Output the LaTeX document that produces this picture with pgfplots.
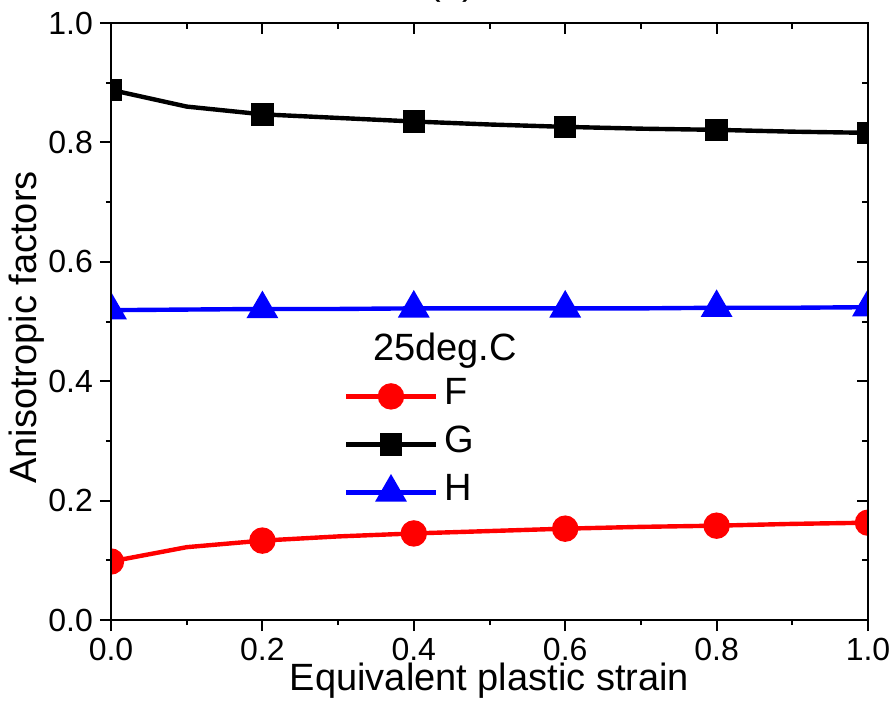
\documentclass[border=0pt]{standalone}
\usepackage{fontspec}
\setmainfont{Liberation Sans}
\usepackage{pgfplots}
\pgfplotsset{compat=1.18}
\usetikzlibrary{calc}

\begin{document}
\begin{tikzpicture}
\pgfplotsset{
  frame/.style={width=378.5pt,height=298.5pt,scale only axis,
    xmin=0,xmax=1,ymin=0,ymax=1,
    xtick={0,0.2,...,1.0},ytick={0,0.2,...,1.0},
    minor x tick num=1,minor y tick num=1,
    axis line style={line width=1pt},
    every tick/.style={line width=1pt,black},
    major tick length=5.5pt,minor tick length=2.5pt}
}
\begin{axis}[frame,name=ax,
  xtick pos=left,ytick pos=left,tick align=outside,
  /pgf/number format/.cd,fixed,fixed zerofill,precision=1,assume math mode=true,/pgfplots/.cd,
  tick label style={font=\fontsize{16}{19}\selectfont},
  xlabel={Equivalent plastic strain},ylabel={Anisotropic factors},
  label style={font=\fontsize{19}{22}\selectfont},
  xlabel style={at={(axis description cs:0.5,0)},anchor=base,yshift=-35pt},
  ylabel style={at={(axis description cs:-0.0978,0.49)},anchor=base},
  clip marker paths=true,
  legend style={draw=none,fill=none,inner sep=0pt,
    at={(rel axis cs:0.307,0.4154)},anchor=north west,
    font=\fontsize{19}{22}\selectfont,
    nodes={inner sep=0pt,text height=16pt,text depth=8pt},
    column sep=3pt},
  legend cell align=left,
  legend image code/.code={\draw[mark repeat=2,mark phase=2] plot coordinates {(0pt,0pt)(22.5pt,0pt)(45pt,0pt)};},
]
\addplot[red,line width=2.2pt,mark=*,mark size=5.5pt,mark repeat=2] coordinates {
(0.0,0.098)(0.1,0.122)(0.2,0.133)(0.3,0.140)(0.4,0.145)(0.5,0.149)
(0.6,0.153)(0.7,0.156)(0.8,0.158)(0.9,0.161)(1.0,0.163)};
\addlegendentry{F}
\addplot[black,line width=2.2pt,mark=square*,mark size=4.5pt,mark repeat=2] coordinates {
(0.0,0.888)(0.1,0.860)(0.2,0.847)(0.3,0.841)(0.4,0.835)(0.5,0.830)
(0.6,0.826)(0.7,0.823)(0.8,0.821)(0.9,0.818)(1.0,0.816)};
\addlegendentry{G}
\addplot[blue,line width=2.2pt,mark=triangle*,mark size=7pt,mark repeat=2] coordinates {
(0.0,0.519)(0.1,0.520)(0.2,0.521)(0.3,0.521)(0.4,0.522)(0.5,0.522)
(0.6,0.522)(0.7,0.522)(0.8,0.523)(0.9,0.523)(1.0,0.524)};
\addlegendentry{H}
\node[anchor=base west,inner sep=0pt,font=\fontsize{19}{22}\selectfont] at (axis cs:0.346,0.4355) {25deg.C};
\end{axis}
\begin{axis}[frame,xtick pos=right,ytick pos=right,tick align=inside,
  major tick length=5.5pt,minor tick length=3pt,
  xticklabels={},yticklabels={}]
\end{axis}
\node[anchor=base,font=\fontsize{19}{22}\selectfont] at ($(ax.north west)+(170.5pt,14pt)$) {(a)};
\pgfresetboundingbox
\path[use as bounding box] ($(ax.south west)+(-55.5pt,-41.5pt)$) rectangle ($(ax.north east)+(13.5pt,11.5pt)$);
\end{tikzpicture}
\end{document}
